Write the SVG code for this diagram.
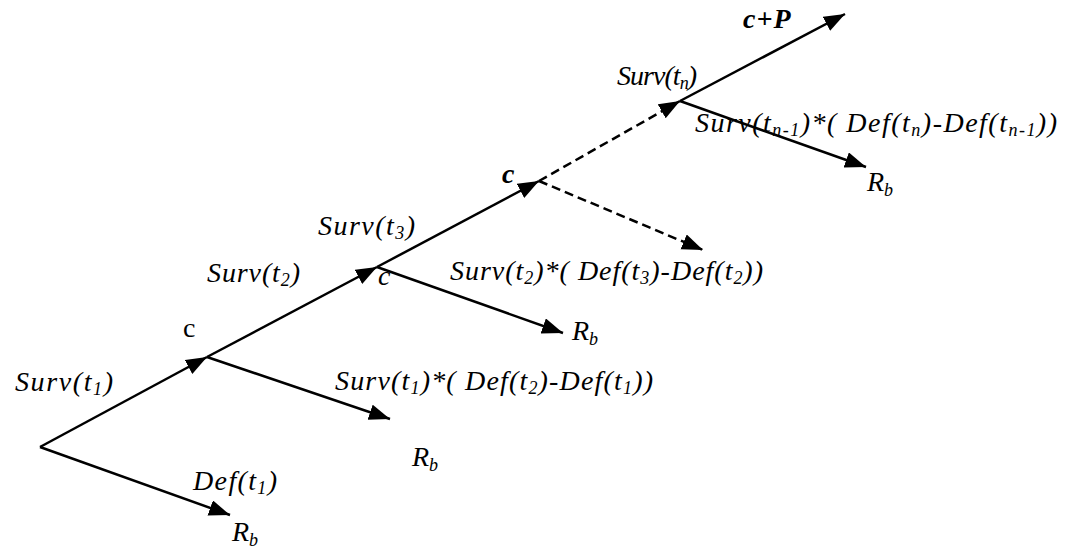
<svg xmlns="http://www.w3.org/2000/svg" width="1076" height="549" viewBox="0 0 1076 549">
<style>
.ln{stroke:#000;stroke-width:2.5;fill:none;marker-end:url(#ah)}
.ds{stroke-dasharray:9 5}
text{font-family:"Liberation Serif","Times New Roman",serif;font-style:italic;font-size:28px;fill:#000}
.up{font-style:normal}
.s{font-size:18px}
</style>
<defs>
<marker id="ah" markerUnits="userSpaceOnUse" markerWidth="24" markerHeight="17" refX="21" refY="8" orient="auto">
<path d="M0,0 L21,8 L0,16 z" fill="#000"/>
</marker>
</defs>
<rect width="1076" height="549" fill="#fff"/>
<g id="connectors">
<line class="ln" x1="40" y1="447" x2="207" y2="357"/>
<line class="ln" x1="40" y1="447" x2="230" y2="515"/>
<line class="ln" x1="207" y1="357" x2="377" y2="267"/>
<line class="ln" x1="207" y1="357" x2="390" y2="419"/>
<line class="ln" x1="377" y1="267" x2="539" y2="181"/>
<line class="ln" x1="377" y1="267" x2="563" y2="333"/>
<line class="ln ds" x1="539" y1="181" x2="680" y2="101"/>
<line class="ln ds" x1="539" y1="181" x2="703" y2="250"/>
<line class="ln" x1="680" y1="101" x2="845" y2="14"/>
<line class="ln" x1="680" y1="101" x2="866" y2="167"/>
</g>
<g id="n0">
<text x="15" y="391" textLength="98" lengthAdjust="spacing">Surv(t<tspan class="s" dy="4">1</tspan><tspan dy="-4">)</tspan></text>
<text x="193" y="490" textLength="84" lengthAdjust="spacing">Def(t<tspan class="s" dy="4">1</tspan><tspan dy="-4">)</tspan></text>
<text x="232" y="541">R<tspan class="s" dy="5">b</tspan></text>
</g>
<g id="n1">
<text class="up" x="183" y="337" font-size="25">c</text>
<text x="335" y="390" textLength="318" lengthAdjust="spacing">Surv(t<tspan class="s" dy="4">1</tspan><tspan dy="-4">)*( Def(t</tspan><tspan class="s" dy="4">2</tspan><tspan dy="-4">)-Def(t</tspan><tspan class="s" dy="4">1</tspan><tspan dy="-4">))</tspan></text>
<text x="412" y="466">R<tspan class="s" dy="5">b</tspan></text>
<text x="207" y="282" textLength="93" lengthAdjust="spacing">Surv(t<tspan class="s" dy="4">2</tspan><tspan dy="-4">)</tspan></text>
</g>
<g id="n2">
<text x="378" y="285" font-size="25">c</text>
<text x="450" y="280" textLength="313" lengthAdjust="spacing">Surv(t<tspan class="s" dy="4">2</tspan><tspan dy="-4">)*( Def(t</tspan><tspan class="s" dy="4">3</tspan><tspan dy="-4">)-Def(t</tspan><tspan class="s" dy="4">2</tspan><tspan dy="-4">))</tspan></text>
<text x="572" y="340">R<tspan class="s" dy="5">b</tspan></text>
<text x="318" y="235" textLength="97" lengthAdjust="spacing">Surv(t<tspan class="s" dy="4">3</tspan><tspan dy="-4">)</tspan></text>
</g>
<g id="n3">
<text x="502" y="183" font-size="25" font-weight="bold">c</text>
</g>
<g id="n4">
<text x="617" y="85" textLength="80" lengthAdjust="spacing">Surv(t<tspan class="s" dy="4">n</tspan><tspan dy="-4">)</tspan></text>
<text x="743" y="28" font-weight="bold" letter-spacing="1">c+P</text>
<text x="695" y="132" textLength="362" lengthAdjust="spacing">Surv(t<tspan class="s" dy="4">n-1</tspan><tspan dy="-4">)*( Def(t</tspan><tspan class="s" dy="4">n</tspan><tspan dy="-4">)-Def(t</tspan><tspan class="s" dy="4">n-1</tspan><tspan dy="-4">))</tspan></text>
<text x="867" y="191">R<tspan class="s" dy="5">b</tspan></text>
</g>
</svg>
